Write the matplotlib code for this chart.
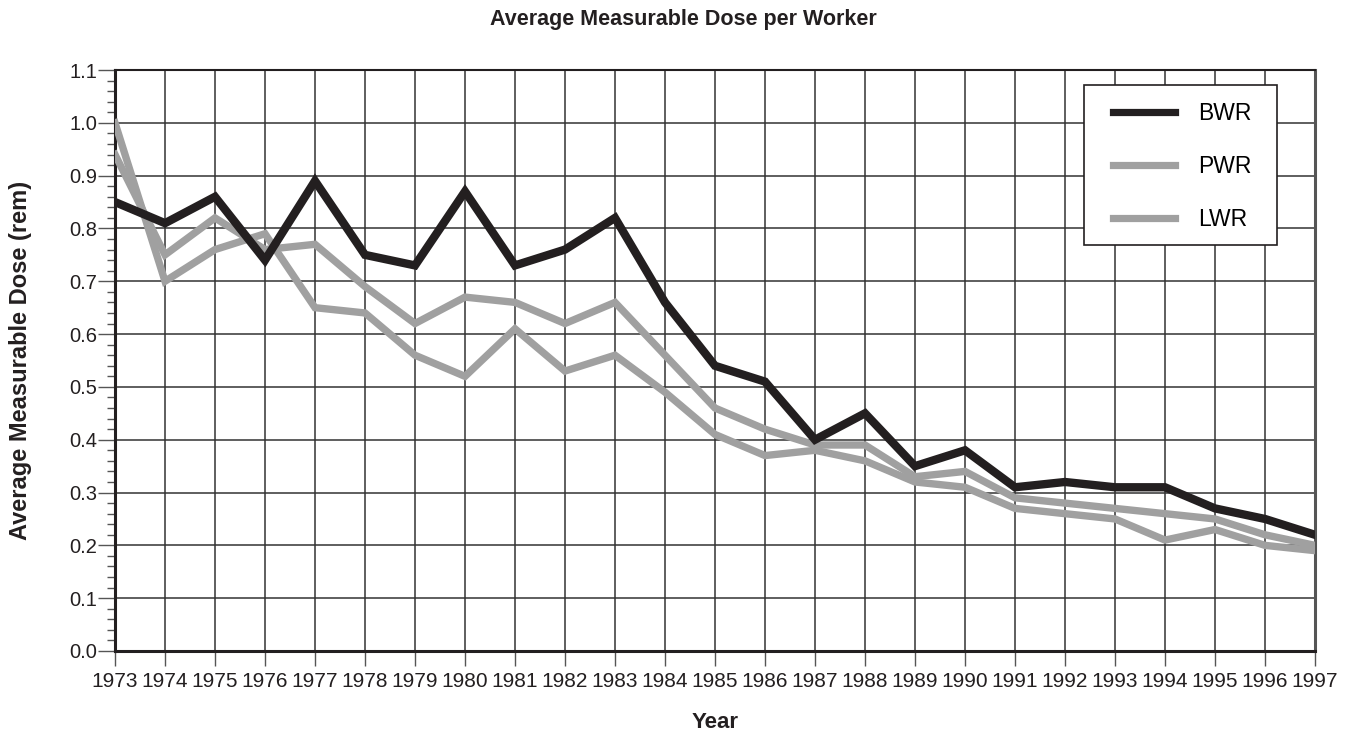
import matplotlib
matplotlib.use("Agg")
import matplotlib.pyplot as plt
from matplotlib.ticker import MultipleLocator, FormatStrFormatter
from matplotlib.patches import Rectangle

years = list(range(1973, 1998))
bwr = [0.85, 0.81, 0.86, 0.74, 0.89, 0.75, 0.73, 0.87, 0.73, 0.76, 0.82, 0.66, 0.54,
       0.51, 0.40, 0.45, 0.35, 0.38, 0.31, 0.32, 0.31, 0.31, 0.27, 0.25, 0.22]
pwr = [1.00, 0.70, 0.76, 0.79, 0.65, 0.64, 0.56, 0.52, 0.61, 0.53, 0.56, 0.49, 0.41,
       0.37, 0.38, 0.36, 0.32, 0.31, 0.27, 0.26, 0.25, 0.21, 0.23, 0.20, 0.19]
lwr = [0.94, 0.75, 0.82, 0.76, 0.77, 0.69, 0.62, 0.67, 0.66, 0.62, 0.66, 0.56, 0.46,
       0.42, 0.39, 0.39, 0.33, 0.34, 0.29, 0.28, 0.27, 0.26, 0.25, 0.22, 0.20]

plt.rcParams["font.family"] = ["Liberation Sans", "DejaVu Sans"]

black = "#231f20"
grey = "#a0a0a0"

W, H = 1355, 738
fig = plt.figure(figsize=(W / 100, H / 100), dpi=100)
ax = fig.add_axes([115 / W, 1 - 651 / H, 1200 / W, 581 / H])

ax.plot(years, bwr, color=black, lw=6, solid_joinstyle="miter", zorder=5, label="BWR")
ax.plot(years, pwr, color=grey, lw=5.3, solid_joinstyle="miter", zorder=4, label="PWR")
ax.plot(years, lwr, color=grey, lw=5.3, solid_joinstyle="miter", zorder=4, label="LWR")

ax.set_xlim(1973, 1997)
ax.set_ylim(0, 1.1)
ax.set_xticks(years)
ax.set_xticklabels([str(y) for y in years])
ax.yaxis.set_major_locator(MultipleLocator(0.1))
ax.yaxis.set_minor_locator(MultipleLocator(0.02))
ax.yaxis.set_major_formatter(FormatStrFormatter("%.1f"))

ax.grid(True, which="major", color="#333333", lw=1.1)
ax.set_axisbelow(True)
ax.tick_params(axis="y", which="major", length=12, width=1, pad=1, labelsize=14.5,
               color="#555555", labelcolor=black)
ax.tick_params(axis="y", which="minor", length=6, width=1, color="#555555")
ax.tick_params(axis="x", which="major", length=11, width=1, pad=4, labelsize=15,
               color="#555555", labelcolor=black)

for s in ["left", "bottom"]:
    ax.spines[s].set_linewidth(2.2)
    ax.spines[s].set_color(black)
ax.spines["top"].set_linewidth(1.5)
ax.spines["top"].set_color(black)
ax.spines["right"].set_linewidth(2.2)
ax.spines["right"].set_color("#555555")

fig.text(715 / W, 1 - 722 / H, "Year", ha="center", va="center",
         fontsize=16, fontweight="bold", color=black)
fig.text(21 / W, 1 - 360 / H, "Average Measurable Dose (rem)", ha="center", va="center",
         rotation=90, fontsize=17, fontweight="bold", color=black)
fig.text(683 / W, 1 - 20 / H, "Average Measurable Dose per Worker", ha="center", va="center",
         fontsize=15.5, fontweight="bold", color=black)

# legend box drawn separately so the padding matches the original
box = Rectangle(((1084 - 115) / 1200, (651 - 245) / 581), 193 / 1200, 160 / 581,
                transform=ax.transAxes, facecolor="white", edgecolor=black, lw=1.2, zorder=8)
ax.add_patch(box)
leg = ax.legend(loc="upper left", bbox_to_anchor=((1113 - 115) / 1200, (651 - 102) / 581),
                frameon=False, fontsize=16.5, handlelength=2.7, handletextpad=1.0,
                labelspacing=1.3, borderpad=0, borderaxespad=0)
leg.set_zorder(9)
for h in leg.legend_handles:
    h.set_linewidth(5.2)

fig.savefig("out.png", dpi=100)
